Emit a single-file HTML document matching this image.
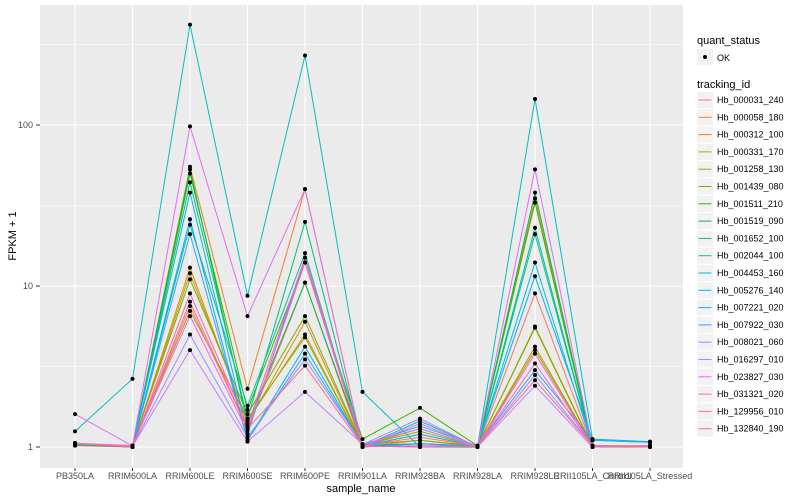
<!DOCTYPE html>
<html><head><meta charset="utf-8"><style>
body{margin:0;background:#fff;}
svg{display:block;font-family:"Liberation Sans",sans-serif;}
</style></head><body>
<svg id="s" width="800" height="500" xmlns="http://www.w3.org/2000/svg">
<rect x="0" y="0" width="800" height="500" fill="#fff"/>
<rect x="40" y="5" width="643" height="463" fill="#EBEBEB"/>
<g id="grid"></g>
<g id="lines"></g>
<g id="pts"></g>
<g font-size="9" fill="#4D4D4D" text-anchor="end">
<text x="33" y="450">1</text><text x="33" y="289">10</text><text x="33" y="128">100</text>
</g>
<g stroke="#333" stroke-width="1"><line x1="36" x2="40" y1="447" y2="447"/><line x1="36" x2="40" y1="286" y2="286"/><line x1="36" x2="40" y1="125" y2="125"/></g>
<g id="xl" font-size="9" fill="#4D4D4D" text-anchor="middle"></g>
<text x="361" y="492" font-size="11" text-anchor="middle" fill="#000">sample_name</text>
<text x="16" y="236" font-size="11" text-anchor="middle" fill="#000" transform="rotate(-90 16 236)">FPKM + 1</text>
<text x="697" y="44" font-size="11" fill="#000">quant_status</text>
<rect x="697" y="49" width="16" height="16" fill="#F2F2F2"/>
<circle cx="705" cy="57" r="2" fill="#000"/>
<text x="717" y="61" font-size="9" fill="#000">OK</text>
<text x="697" y="88" font-size="11" fill="#000">tracking_id</text>
<g id="leg" font-size="9" fill="#000"></g>
</svg>
<script>
var NS="http://www.w3.org/2000/svg";
function el(p,t,a,txt){var e=document.createElementNS(NS,t);for(var k in a)e.setAttribute(k,a[k]);if(txt)e.textContent=txt;document.getElementById(p).appendChild(e);return e;}
var xs=[],cats=["PB350LA","RRIM600LA","RRIM600LE","RRIM600SE","RRIM600PE","RRIM901LA","RRIM928BA","RRIM928LA","RRIM928LE","RRII105LA_Control","RRII105LA_Stressed"];
for(var i=0;i<11;i++)xs.push(75+i*57.5);
function Y(v){return 447-161*Math.log10(v);}
[366.5,205.5,44.5].forEach(function(y){el("grid","line",{x1:40,x2:683,y1:y,y2:y,stroke:"#fff","stroke-width":0.5});});
[447,286,125].forEach(function(y){el("grid","line",{x1:40,x2:683,y1:y,y2:y,stroke:"#fff","stroke-width":1.1});});
xs.forEach(function(x,i){el("grid","line",{x1:x,x2:x,y1:5,y2:468,stroke:"#fff","stroke-width":1.1});
el("grid","line",{x1:x,x2:x,y1:468,y2:471,stroke:"#333"});
el("xl","text",{x:x,y:479},cats[i]);});
var cols=["#F8766D","#EA8331","#D89000","#C09B00","#A3A500","#7CAE00","#39B600","#00BB4E","#00BF7D","#00C1A3","#00BFC4","#00BAE0","#00B0F6","#35A2FF","#9590FF","#C77CFF","#E76BF3","#FA62DB","#FF62BC","#FF6C91"];
var ids=["Hb_000031_240","Hb_000058_180","Hb_000312_100","Hb_000331_170","Hb_001258_130","Hb_001439_080","Hb_001511_210","Hb_001519_090","Hb_001652_100","Hb_002044_100","Hb_004453_160","Hb_005276_140","Hb_007221_020","Hb_007922_030","Hb_008021_060","Hb_016297_010","Hb_023827_030","Hb_031321_020","Hb_129956_010","Hb_132840_190"];
var LE=[8,55,13,12,7,11,50,53,44,24,420,38,26,21,5,4,98,6.5,9,7.5];
var SE=[1.3,2.3,1.4,1.45,1.5,1.6,1.7,1.4,1.5,1.8,8.7,1.2,1.1,1.1,1.15,1.08,6.5,1.25,1.35,1.3];
var PE=[10.5,40,6,5,4.8,6.5,14,10.5,25,16,270,15,4.2,3.8,3.5,2.2,40,14,15,3.2];
var LE9=[9,35,5.6,4.2,4,5.5,33,38,23,21,145,14,11.5,3,2.8,2.4,53,3.8,3.3,2.6];
var BA=[1.05,1.1,1.2,1.3,1.25,1.1,1.75,1.0,1.05,1.45,1.0,1.2,1.05,1.35,1.5,1.3,1.4,1.02,1.0,1.15];
for(var j=0;j<20;j++){
 var v=[1.02+0.002*j,1.0+0.004*(j%6),LE[j],SE[j],PE[j],1.0+0.006*(j%8),BA[j],1.0+0.003*(j%7),LE9[j],1.0+0.005*(j%5),1.0+0.004*(j%6)];
 if(j==10){v[0]=1.25;v[1]=2.65;v[5]=2.2;v[9]=1.12;v[10]=1.08;}
 if(j==16){v[0]=1.6;v[5]=1.0;}
 if(j==6){v[5]=1.12;}
 if(j==13||j==12){v[9]=1.1;v[10]=1.07;}
 var p=v.map(function(a,i){return xs[i]+","+Y(a).toFixed(1);}).join(" ");
 el("lines","polyline",{points:p,fill:"none",stroke:cols[j],"stroke-width":1});
 v.forEach(function(a,i){el("pts","circle",{cx:xs[i],cy:Y(a),r:2,fill:"#000"});});
 var ly=100+j*17.3;
 el("leg","rect",{x:697,y:ly-8,width:16,height:16,fill:"#F2F2F2"});
 el("leg","line",{x1:698.5,x2:711.5,y1:ly,y2:ly,stroke:cols[j],"stroke-width":1});
 el("leg","text",{x:717,y:ly+3},ids[j]);
}
</script>
</body></html>
